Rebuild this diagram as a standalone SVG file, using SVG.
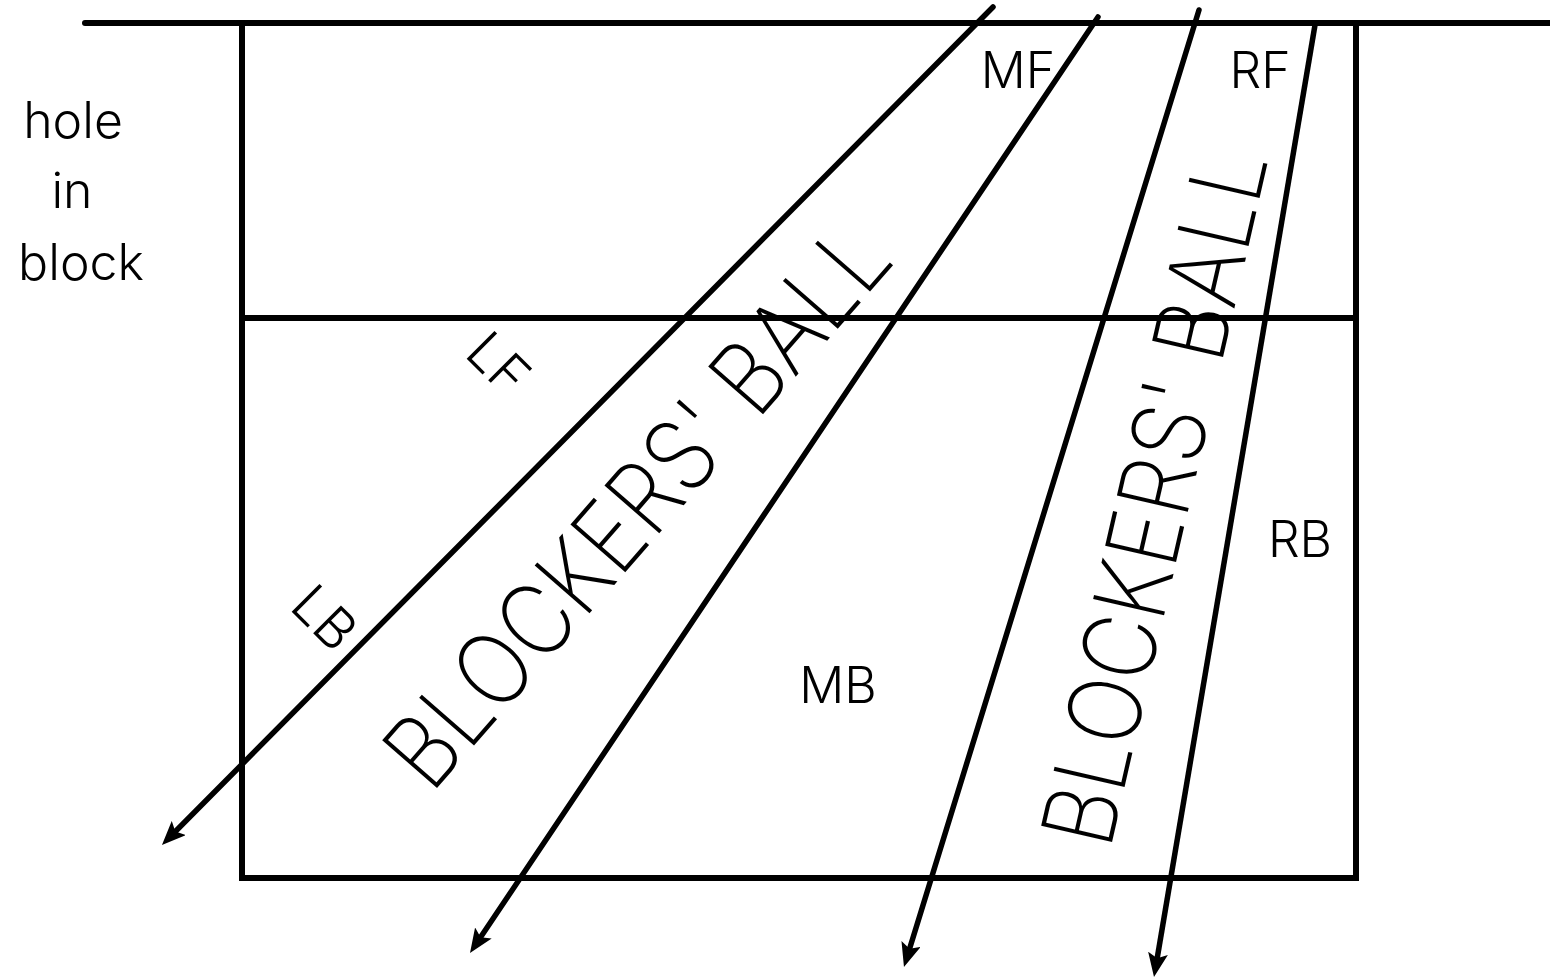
<svg xmlns="http://www.w3.org/2000/svg" width="1550" height="979" viewBox="0 0 1550 979">
  <style>
    .court { fill: none; stroke: #000; stroke-width: 6; stroke-linejoin: miter; }
    .net { stroke: #000; stroke-width: 6; stroke-linecap: round; }
    .path { fill: none; stroke: #000; stroke-width: 5.5; stroke-linecap: round; }
    .lbl { font-family: Inter, Lato, "Open Sans", "Liberation Sans", sans-serif; font-weight: 300; fill: #000; }
    .big { font-family: Inter, Lato, "Open Sans", "Liberation Sans", sans-serif; font-weight: 200; fill: #000; font-size: 100px; }
  </style>
  <defs>
    <marker id="arrow" markerUnits="userSpaceOnUse" viewBox="0 0 24 20" refX="12" refY="10" markerWidth="24" markerHeight="20" orient="auto">
      <path d="M0,0 L24,10 L0,20 L5,10 Z" fill="#000"/>
    </marker>
  </defs>
  <rect width="1550" height="979" fill="#fff"/>

  <g id="court">
    <line class="net" x1="85" y1="23" x2="1552" y2="23"/>
    <polyline class="court" points="242,23 242,878 1356,878 1356,23"/>
    <line class="court" x1="242" y1="318" x2="1356" y2="318"/>
  </g>

  <g id="connectors">
    <line class="path" x1="993" y1="7" x2="170.4" y2="836.5" marker-end="url(#arrow)"/>
    <line class="path" x1="1098" y1="17" x2="476.7" y2="943" marker-end="url(#arrow)"/>
    <line class="path" x1="1199" y1="10" x2="907.5" y2="955.5" marker-end="url(#arrow)"/>
    <line class="path" x1="1315" y1="25" x2="1156" y2="965.2" marker-end="url(#arrow)" style="stroke-linecap:butt"/>
  </g>

  <g id="hole-label">
    <text class="lbl" x="73" y="138" font-size="50" text-anchor="middle">hole</text>
    <text class="lbl" x="72" y="208" font-size="50" text-anchor="middle">in</text>
    <text class="lbl" x="81" y="280" font-size="50" text-anchor="middle">block</text>
  </g>

  <g id="MF"><text class="lbl" x="1018" y="88" font-size="50" text-anchor="middle">MF</text></g>
  <g id="RF"><text class="lbl" x="1260" y="88" font-size="50" text-anchor="middle">RF</text></g>
  <g id="RB"><text class="lbl" x="1300" y="557" font-size="50" text-anchor="middle">RB</text></g>
  <g id="MB"><text class="lbl" x="838" y="703" font-size="50" text-anchor="middle">MB</text></g>
  <g id="LF"><text class="lbl" transform="translate(463,355) rotate(45)" font-size="54">LF</text></g>
  <g id="LB"><text class="lbl" transform="translate(288,608) rotate(45)" font-size="54">LB</text></g>

  <g id="blockers-ball-left">
    <text class="big" transform="translate(431,795) rotate(-48.9)" textLength="708" lengthAdjust="spacingAndGlyphs">BLOCKERS' BALL</text>
  </g>
  <g id="blockers-ball-right">
    <text class="big" transform="translate(1110,851) rotate(-77.1)" textLength="710" lengthAdjust="spacingAndGlyphs">BLOCKERS' BALL</text>
  </g>
</svg>
